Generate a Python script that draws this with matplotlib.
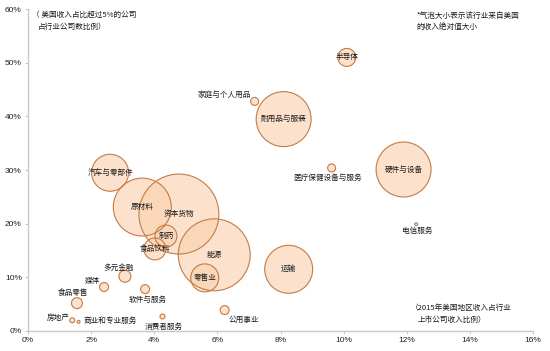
import numpy as np
import matplotlib.pyplot as plt
from matplotlib.ticker import PercentFormatter

plt.rcParams['font.family'] = ['Noto Sans CJK SC', 'DejaVu Sans']

# 行业数据：x = 2015年美国地区收入占比(%), y = 美国收入占比超过5%的公司占比(%), size = 美国收入绝对值(相对)
industries = ["半导体", "家庭与个人用品", "耐用品与服装", "硬件与设备", "医疗保健设备与服务",
              "电信服务", "运输", "汽车与零部件", "原材料", "资本货物", "能源", "制药",
              "食品饮料", "零售业", "多元金融", "媒体", "软件与服务", "食品零售", "公用事业",
              "房地产", "商业和专业服务", "消费者服务"]
us_rev_share = [10.1, 7.18, 8.1, 11.9, 9.62, 12.3, 8.26, 2.6, 3.62, 4.78, 5.9, 4.37,
                4.02, 5.6, 3.07, 2.41, 3.71, 1.55, 6.23, 1.4, 1.6, 4.26]
company_share = [51.0, 42.8, 39.5, 30.1, 30.4, 19.9, 11.5, 29.5, 23.1, 21.8, 14.2, 17.7,
                 15.3, 9.9, 10.2, 8.2, 7.8, 5.2, 3.9, 2.0, 1.7, 2.7]
us_revenue = [81, 16, 756, 756, 16, 2.2, 576, 342, 841, 1600, 1296, 121,
              121, 196, 36, 20, 20, 30, 20, 6, 2.2, 6]

# 标签偏移 (points)，未列出的居中
label_offsets = {
    "家庭与个人用品": (-21.6, 5), "医疗保健设备与服务": (-3, -7), "电信服务": (0.7, -5),
    "多元金融": (-4.3, 5.8), "媒体": (-8.6, 4.3), "软件与服务": (2.2, -7.9),
    "食品零售": (-2.9, 7.2), "公用事业": (13.7, -7.2), "房地产": (-10, 1.4),
    "商业和专业服务": (23, 0.7), "消费者服务": (0.7, -7.2),
}

fig = plt.figure(figsize=(5.5, 3.51), dpi=100)
ax = fig.add_axes([0.051, 0.057, 0.918, 0.917])

order = np.argsort(us_revenue)[::-1]
x = np.array(us_rev_share)[order]
y = np.array(company_share)[order]
s = np.array(us_revenue)[order] * 2.07
ax.scatter(x, y, s=s, facecolor='#FAD0AC', alpha=0.6, edgecolor='none', zorder=2)
ax.scatter(x, y, s=s, facecolor='none', edgecolor='#C47B45', linewidth=0.8, zorder=3)

for name, xi, yi in zip(industries, us_rev_share, company_share):
    dx, dy = label_offsets.get(name, (0, 0))
    ax.annotate(name, (xi, yi), xytext=(dx, dy), textcoords='offset points',
                ha='center', va='center', fontsize=5.5, color='#1A1A1A', zorder=4)

ax.set_xlim(0, 16)
ax.set_ylim(0, 60)
ax.set_xticks(np.arange(0, 17, 2))
ax.set_yticks(np.arange(0, 61, 10))
ax.xaxis.set_major_formatter(PercentFormatter(decimals=0))
ax.yaxis.set_major_formatter(PercentFormatter(decimals=0))
for lab in ax.get_xticklabels() + ax.get_yticklabels():
    lab.set_fontfamily('Liberation Sans')
ax.tick_params(labelsize=6, length=2.5, width=0.6, color='#BBBBBB', pad=2, labelcolor='#222222')
for side in ['top', 'right']:
    ax.spines[side].set_visible(False)
for side in ['left', 'bottom']:
    ax.spines[side].set_color('#C8C8C8')
    ax.spines[side].set_linewidth(1.0)

note_kw = dict(transform=ax.transAxes, ha='left', va='top', fontsize=5.5, color='#1A1A1A')
ax.text(0.008, 0.995, "（ 美国收入占比超过5%的公司", **note_kw)
ax.text(0.02, 0.958, "占行业公司数比例）", **note_kw)
ax.text(0.77, 0.99, "*气泡大小表示该行业来自美国", **note_kw)
ax.text(0.77, 0.953, "的收入绝对值大小", **note_kw)
ax.text(0.757, 0.085, "（2015年美国地区收入占行业", **note_kw)
ax.text(0.772, 0.048, "上市公司收入比例）", **note_kw)

fig.savefig("out.png", dpi=100)
